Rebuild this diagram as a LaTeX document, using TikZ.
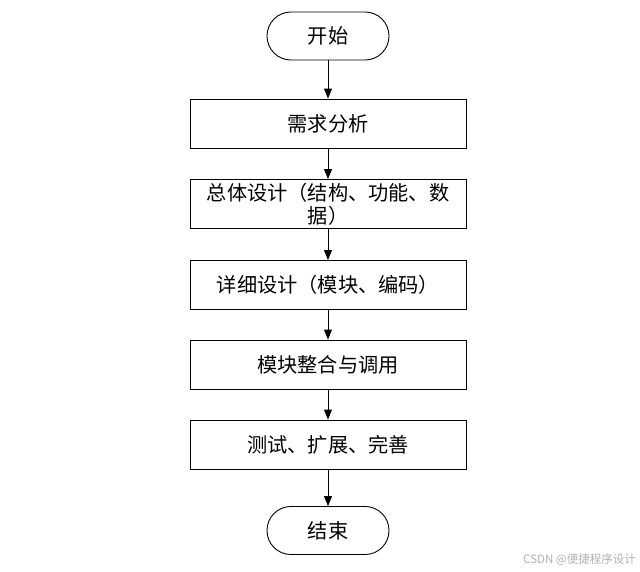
\documentclass[tikz,border=0pt]{standalone}
\usepackage{fontspec}
\setmainfont{Noto Sans CJK SC}
\usetikzlibrary{arrows.meta}
\begin{document}
\begin{tikzpicture}[x=1pt,y=-1pt,
  proc/.style={draw=black,line width=0.9pt,minimum width=276pt,minimum height=49pt,inner sep=0pt,font=\fontsize{20.2}{23}\selectfont,align=center},
  term/.style={draw=black,line width=0.9pt,rounded corners=23.9pt,minimum width=122pt,minimum height=48pt,inner sep=0pt,font=\fontsize{20.2}{23}\selectfont},
  conn/.style={draw=black,line width=0.9pt,-{Triangle[length=10pt,width=8pt]}}]
\useasboundingbox[fill=white] (0,0) rectangle (640,571);
\node[term] (s) at (328,36) {开始};
\node[proc] (b1) at (328,123.5) {需求分析};
\node[proc] (b2) at (328,204) {总体设计（结构、功能、数\\据）};
\node[proc] (b3) at (328,285) {详细设计（模块、编码）};
\node[proc] (b4) at (328,364.5) {模块整合与调用};
\node[proc] (b5) at (328,444.5) {测试、扩展、完善};
\node[term] (e) at (328,530.5) {结束};
\draw[conn] (s) -- (b1);
\draw[conn] (b1) -- (b2);
\draw[conn] (b2) -- (b3);
\draw[conn] (b3) -- (b4);
\draw[conn] (b4) -- (b5);
\draw[conn] (b5) -- (e);
\node[anchor=east,text=black!30,font=\fontsize{11.5}{13}\selectfont,inner sep=0pt] (wm) at (636,560) {CSDN @便捷程序设计};
\end{tikzpicture}
\end{document}
